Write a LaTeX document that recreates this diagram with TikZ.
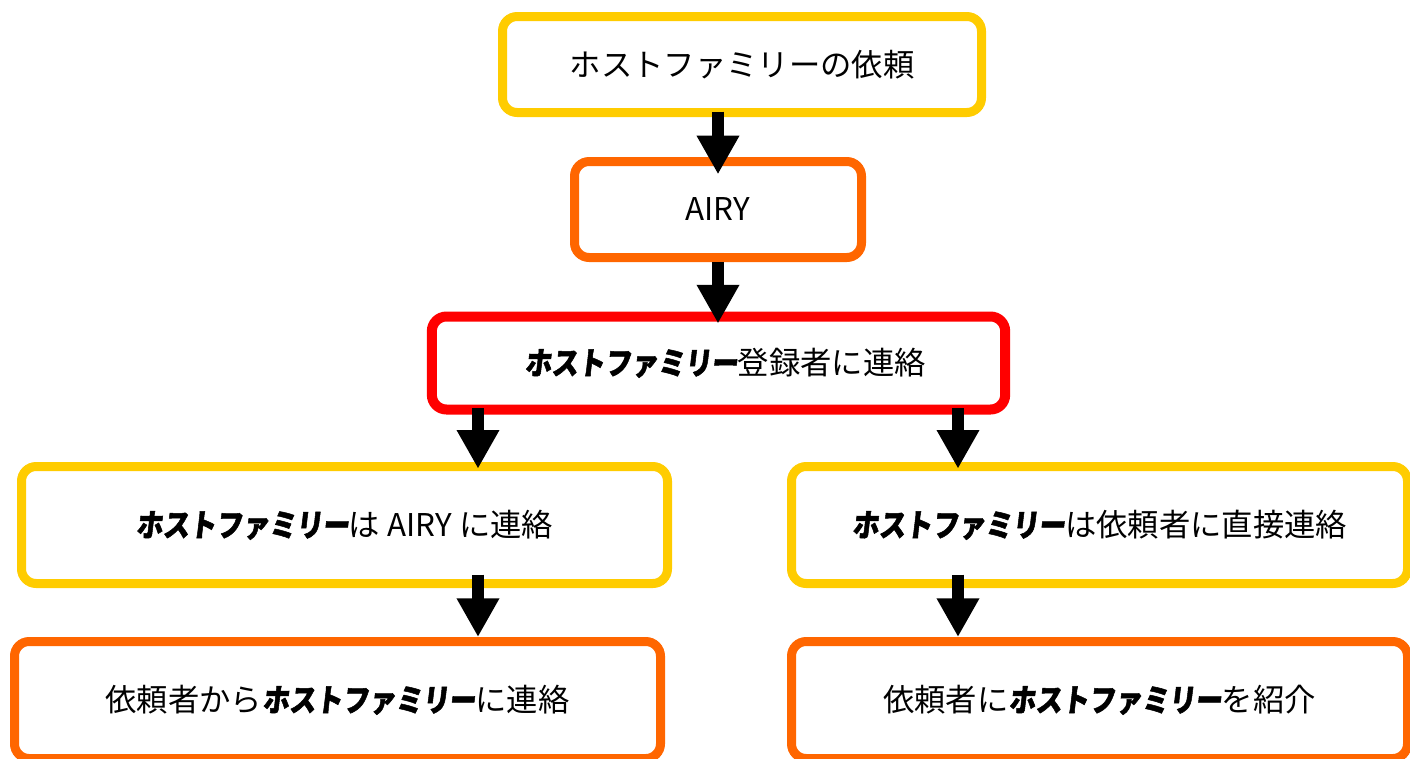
\documentclass[tikz,border=0pt]{standalone}
\usepackage{fontspec}
\setmainfont{Noto Sans CJK JP}
\newfontfamily\popfont{Noto Sans CJK JP}[FakeSlant=0.12, FakeStretch=0.85, BoldFeatures={FakeSlant=0.12, FakeStretch=0.85, FakeBold=1.6}]
\newcommand\hfam{{\popfont\bfseries ホストファミリー}}
\usetikzlibrary{arrows.meta}
\definecolor{cyel}{HTML}{FFCC00}
\definecolor{corg}{HTML}{FF6600}
\definecolor{cred}{HTML}{FF0000}
\begin{document}
\begin{tikzpicture}[x=0.75pt,y=-0.75pt,
  box/.style={draw, line width=6.75pt, rounded corners=11pt, fill=white, inner sep=0pt,
    font=\fontsize{23.5}{28}\selectfont},
  arr/.style={line width=9pt, -{Triangle[width=30pt,length=29pt]}}]
\useasboundingbox (0,0) rectangle (1410,758);
\node[box, draw=cyel, minimum width=359.25pt, minimum height=72pt] (b1) at (742,64.5) {ホストファミリーの依頼\hspace{14pt}};
\node[box, draw=corg, minimum width=215.25pt, minimum height=72pt] (b2) at (718,209.5) {AIRY};
\node[box, draw=cred, line width=7.5pt, minimum width=430pt, minimum height=69.75pt] (b3) at (718.5,363) {\hspace{10pt}\hfam 登録者に連絡};
\node[box, draw=cyel, minimum width=484.5pt, minimum height=87.75pt] (b4) at (344.5,525) {\hfam は AIRY に連絡};
\node[box, draw=cyel, minimum width=462pt, minimum height=87.75pt] (b5) at (1099.5,525) {\hfam は依頼者に直接連絡};
\node[box, draw=corg, minimum width=484.5pt, minimum height=87.75pt] (b6) at (337.5,700) {依頼者から\hfam に連絡};
\node[box, draw=corg, minimum width=462pt, minimum height=87.75pt] (b7) at (1099.5,700) {依頼者に\hfam を紹介};
\coordinate (xa) at (718,0);
\coordinate (xl) at (478,0);
\coordinate (xr) at (958,0);
\draw[arr] ([yshift=4pt]xa |- b1.south) -- ([yshift=-13pt]xa |- b2.north);
\draw[arr] (xa |- b2.south) -- ([yshift=-9pt]xa |- b3.north);
\draw[arr] ([yshift=5pt]xl |- b3.south) -- ([yshift=-5pt]xl |- b4.north);
\draw[arr] ([yshift=5pt]xr |- b3.south) -- ([yshift=-5pt]xr |- b5.north);
\draw[arr] ([yshift=10pt]xl |- b4.south) -- (xl |- b6.north);
\draw[arr] ([yshift=10pt]xr |- b5.south) -- (xr |- b7.north);
\end{tikzpicture}
\end{document}
